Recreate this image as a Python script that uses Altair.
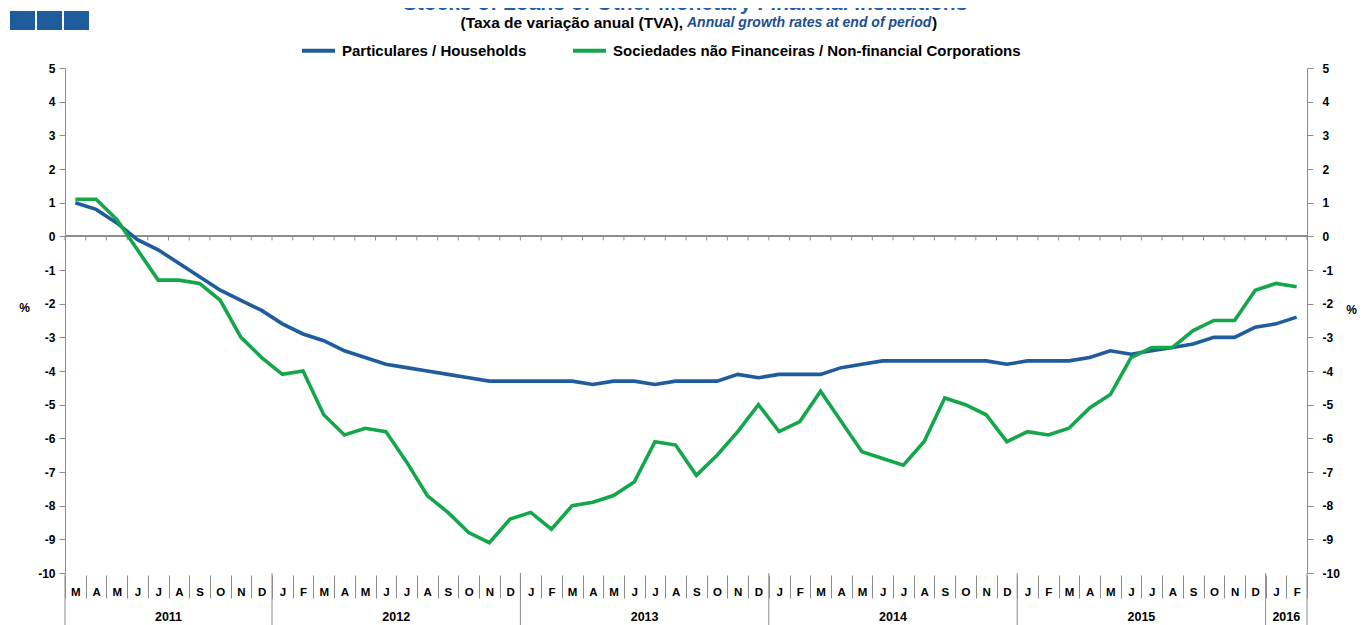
import altair as alt
import pandas as pd

# ---------------- data ----------------
series_names = ["Particulares / Households",
                "Sociedades não Financeiras / Non-financial Corporations"]

households = [1.0, 0.8, 0.4, -0.1, -0.4, -0.8, -1.2, -1.6, -1.9, -2.2,
              -2.6, -2.9, -3.1, -3.4, -3.6, -3.8, -3.9, -4.0, -4.1, -4.2, -4.3, -4.3,
              -4.3, -4.3, -4.3, -4.4, -4.3, -4.3, -4.4, -4.3, -4.3, -4.3, -4.1, -4.2,
              -4.1, -4.1, -4.1, -3.9, -3.8, -3.7, -3.7, -3.7, -3.7, -3.7, -3.7, -3.8,
              -3.7, -3.7, -3.7, -3.6, -3.4, -3.5, -3.4, -3.3, -3.2, -3.0, -3.0, -2.7,
              -2.6, -2.4]
corporations = [1.1, 1.1, 0.5, -0.4, -1.3, -1.3, -1.4, -1.9, -3.0, -3.6,
                -4.1, -4.0, -5.3, -5.9, -5.7, -5.8, -6.7, -7.7, -8.2, -8.8, -9.1, -8.4,
                -8.2, -8.7, -8.0, -7.9, -7.7, -7.3, -6.1, -6.2, -7.1, -6.5, -5.8, -5.0,
                -5.8, -5.5, -4.6, -5.5, -6.4, -6.6, -6.8, -6.1, -4.8, -5.0, -5.3, -6.1,
                -5.8, -5.9, -5.7, -5.1, -4.7, -3.6, -3.3, -3.3, -2.8, -2.5, -2.5, -1.6,
                -1.4, -1.5]

title_text = "Stocks of Loans of Other Monetary Financial Institutions"
subtitle_pt = "(Taxa de variação anual (TVA),"
subtitle_en = "Annual growth rates at end of period"

# month keys: March 2011 .. February 2016
keys = []
yy, mm = 2011, 3
for _ in range(len(households)):
    keys.append(f"{yy}-{mm:02d}")
    mm += 1
    if mm > 12:
        mm, yy = 1, yy + 1

df = pd.DataFrame({
    "key": keys * 2,
    "series": [series_names[0]] * len(keys) + [series_names[1]] * len(keys),
    "value": households + corporations,
})

years = sorted(set(k[:4] for k in keys))
year_rows = []
for y in years:
    idx = [i for i, k in enumerate(keys) if k.startswith(y)]
    year_rows.append({"year": y, "mid": keys[idx[0] + len(idx) // 2], "start": keys[idx[0]]})
years_df = pd.DataFrame(year_rows)
sep_df = pd.DataFrame({"start": years_df["start"]})
end_df = pd.DataFrame({"end": [keys[-1]]})
keys_df = pd.DataFrame({"key": keys})

# ---------------- style ----------------
FONT = "Liberation Sans, Arial, sans-serif"
GREY = "#8c8c8c"
BLUE = "#1f5c9b"
GREEN = "#13a64b"
W, H = 1242, 505

xscale = alt.Scale(type="band", domain=keys, paddingInner=0, paddingOuter=0)
def yscale():
    return alt.Scale(domain=[-10, 5], nice=False, zero=False)
yvals = list(range(-10, 6))

month_axis = alt.Axis(
    title=None, orient="bottom", offset=2, domain=False, grid=False,
    tickBand="extent", tickSize=23, tickColor=GREY, tickWidth=1,
    labelExpr="isString(datum.value) ? ['J','F','M','A','M','J','J','A','S','O','N','D'][toNumber(slice(datum.value,5,7))-1] : ''",
    labelFont=FONT, labelFontWeight="bold", labelFontSize=11.5, labelColor="black",
    labelPadding=-12, labelAngle=0, labelBaseline="top",
)
left_axis = alt.Axis(
    orient="left", values=yvals, grid=False, tickSize=6, tickColor=GREY,
    domainColor=GREY, labelExpr="datum.value + ''",
    labelFont=FONT, labelFontWeight="bold", labelFontSize=12, labelColor="black",
    labelPadding=4, title="%", titleAngle=0, titleX=-41, titleY=239,
    titleAlign="center", titleBaseline="middle", titleFont=FONT,
    titleFontWeight="bold", titleFontSize=12, titleColor="black",
)
right_axis = alt.Axis(
    orient="right", values=yvals, grid=False, tickSize=6, tickColor=GREY,
    domainColor=GREY, labelExpr="datum.value + ''",
    labelFont=FONT, labelFontWeight="bold", labelFontSize=12, labelColor="black",
    labelPadding=9, title="%", titleAngle=0, titleX=44, titleY=241,
    titleAlign="center", titleBaseline="middle", titleFont=FONT,
    titleFontWeight="bold", titleFontSize=12, titleColor="black",
)

legend = alt.Legend(
    orient="none", legendX=235, legendY=-36, direction="horizontal", title=None,
    symbolType="stroke", symbolSize=1089, symbolStrokeWidth=4,
    labelFont=FONT, labelFontSize=15, labelFontWeight="bold", labelColor="black",
    labelOffset=5, columnPadding=38, labelLimit=700,
)

def xenc(field, band):
    return alt.X(f"{field}:N", scale=xscale, axis=month_axis, bandPosition=band)

lines = alt.Chart(df).mark_line(strokeWidth=3.6).encode(
    x=xenc("key", 0.5),
    y=alt.Y("value:Q", scale=yscale(), axis=left_axis),
    color=alt.Color("series:N", scale=alt.Scale(domain=series_names, range=[BLUE, GREEN]),
                    legend=legend),
)

right_layer = alt.Chart(df).mark_line(opacity=0).encode(
    x=xenc("key", 0.5),
    y=alt.Y("value:Q", scale=yscale(), axis=right_axis),
    detail="series:N",
)

# zero line with small ticks at month boundaries
zero_line = alt.Chart(keys_df).mark_rule(color=GREY, strokeWidth=1).encode(
    y=alt.YDatum(0, scale=yscale(), axis=None),
)
zero_ticks = alt.Chart(keys_df).mark_rule(color=GREY, strokeWidth=1).encode(
    x=xenc("key", 0),
    y=alt.YDatum(0, scale=yscale(), axis=None),
    y2=alt.Y2Datum(-0.12),
)
zero_end = alt.Chart(end_df).mark_rule(color=GREY, strokeWidth=1).encode(
    x=xenc("end", 1),
    y=alt.YDatum(0, scale=yscale(), axis=None),
    y2=alt.Y2Datum(-0.12),
)

year_seps = alt.Chart(sep_df).mark_rule(color=GREY, strokeWidth=1).encode(
    x=xenc("start", 0),
    y=alt.value(H), y2=alt.value(H + 52),
)
end_sep = alt.Chart(end_df).mark_rule(color=GREY, strokeWidth=1).encode(
    x=xenc("end", 1),
    y=alt.value(H), y2=alt.value(H + 52),
)
year_labels = alt.Chart(years_df).mark_text(
    font=FONT, fontWeight="bold", fontSize=12.5, color="black", baseline="middle"
).encode(
    x=xenc("mid", 0),
    y=alt.value(H + 44),
    text="year:N",
)

one = pd.DataFrame({"t": [title_text], "pt": [subtitle_pt], "en": [subtitle_en], "c": [")"]})
title_mark = alt.Chart(one).mark_text(
    font=FONT, fontWeight="bold", fontSize=21, color="#1f5fa8", align="center",
    baseline="alphabetic",
).encode(x=alt.value(620), y=alt.value(-58), text="t:N")
sub_pt = alt.Chart(one).mark_text(
    font=FONT, fontWeight="bold", fontSize=15.5, color="black", align="right",
    baseline="middle",
).encode(x=alt.value(618), y=alt.value(-45), text="pt:N")
sub_en = alt.Chart(one).mark_text(
    font=FONT, fontWeight="bold", fontStyle="italic", fontSize=14, color="#1c4f8c",
    align="left", baseline="middle",
).encode(x=alt.value(622), y=alt.value(-45), text="en:N")
sub_close = alt.Chart(one).mark_text(
    font=FONT, fontWeight="bold", fontSize=15.5, color="black", align="left",
    baseline="middle",
).encode(x=alt.value(867), y=alt.value(-45), text="c:N")

logo = [
    alt.Chart(one).mark_rect(color="#1f5c9e").encode(
        x=alt.value(x0), x2=alt.value(x0 + 25), y=alt.value(-57), y2=alt.value(-38))
    for x0 in (-55, -28, -1)
]

chart = alt.layer(
    right_layer, zero_line, zero_ticks, zero_end, year_seps, end_sep, year_labels,
    title_mark, sub_pt, sub_en, sub_close, *logo, lines,
).resolve_scale(y="independent").properties(
    width=W, height=H,
    autosize=alt.AutoSizeParams(type="none"),
    padding={"left": 57, "top": 60, "right": 50, "bottom": 52},
).configure(background="white").configure_view(stroke=None)

chart.save("out.html", embed_options={"renderer": "svg", "actions": False})
